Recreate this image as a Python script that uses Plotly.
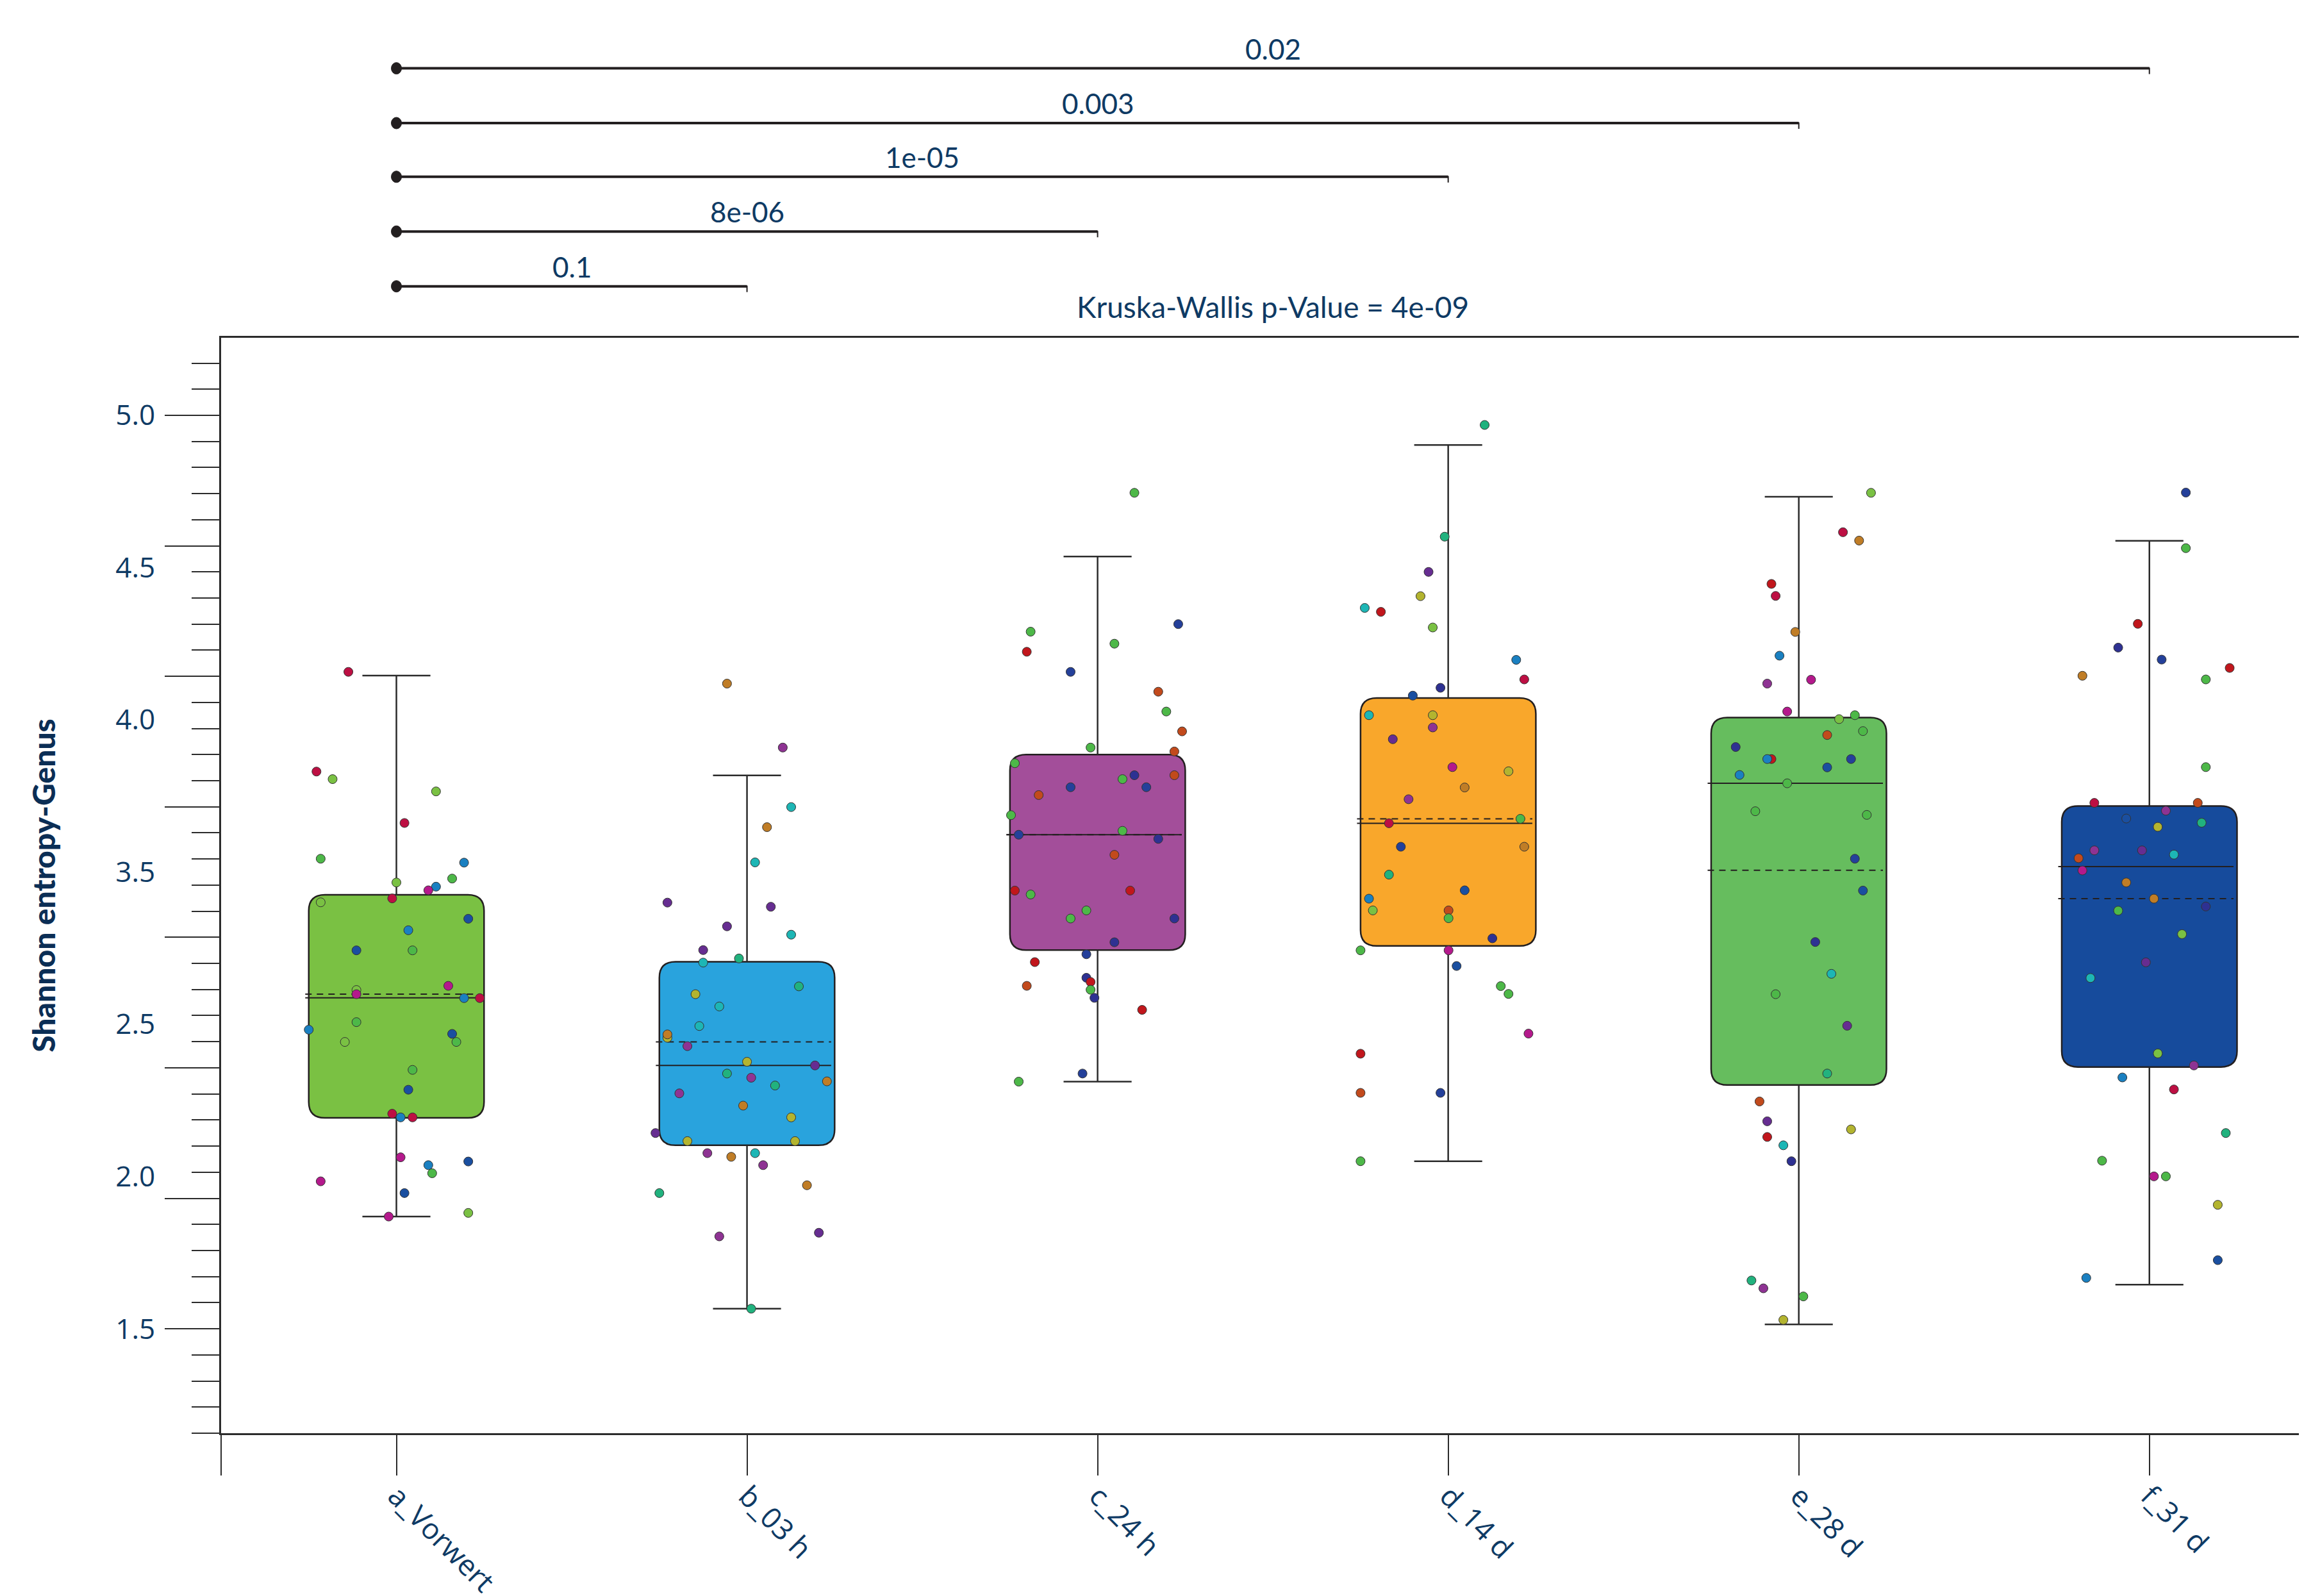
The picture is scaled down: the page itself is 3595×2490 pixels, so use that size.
import plotly.graph_objects as go
import numpy as np

# ---------------- data ----------------
categories = ["a_Vorwert", "b_03 h", "c_24 h", "d_14 d", "e_28 d", "f_31 d"]
box_colors = ["#7AC143", "#29A3DD", "#A34E9A", "#F9A72B", "#66BD5E", "#164B9C"]

q1 = [2.308, 2.203, 2.951, 2.967, 2.434, 2.503]
median = [2.768, 2.509, 3.393, 3.437, 3.590, 3.271]
q3 = [3.163, 2.906, 3.700, 3.917, 3.842, 3.503]
lower = [1.930, 1.577, 2.447, 2.142, 1.517, 1.669]
upper = [4.003, 3.620, 4.459, 4.886, 4.688, 4.519]
mean = [2.782, 2.599, 3.393, 3.454, 3.257, 3.148]

palette = {
    "R": "#BD0F43", "BR": "#C1161C", "LG": "#7AC143", "G": "#4DB848",
    "SG": "#21B27E", "B": "#1A80C1", "N": "#1A4FA0", "DN": "#2E3192",
    "N2": "#24409A", "M": "#B4198C", "PM": "#8E3393", "P": "#662D91",
    "BW": "#C07D26", "OR": "#C24A1C", "T": "#1DB6B5", "OL": "#B3B42F",
}

# jitter offsets (category units), values, colour keys for each group
a_dx = [-0.137, -0.228, -0.182, 0.113, 0.023, -0.216, 0.193, 0.159, 0.000, 0.113,
        0.091, -0.012, -0.216, 0.205, 0.034, -0.114, 0.046, 0.148, -0.114, -0.114,
        0.193, 0.238, -0.114, -0.250, -0.147, 0.159, 0.171, 0.046, 0.034, -0.012,
        0.012, 0.046, 0.012, 0.091, 0.205, 0.102, -0.216, 0.023, -0.022, 0.205]
a_val = [4.017, 3.635, 3.606, 3.559, 3.438, 3.301, 3.286, 3.225, 3.210, 3.194,
         3.180, 3.149, 3.134, 3.071, 3.027, 2.950, 2.950, 2.814, 2.798, 2.782,
         2.767, 2.767, 2.675, 2.646, 2.599, 2.630, 2.599, 2.492, 2.416, 2.324,
         2.310, 2.310, 2.157, 2.127, 2.141, 2.096, 2.065, 2.020, 1.930, 1.944]
a_col = ["R", "R", "LG", "LG", "R", "G", "B", "G", "LG", "B",
         "M", "R", "LG", "N", "B", "N", "G", "M", "LG", "M",
         "B", "R", "G", "B", "LG", "N", "G", "G", "N", "R",
         "B", "R", "M", "B", "N", "G", "M", "N", "M", "LG"]

b_dx = [-0.057, 0.102, 0.126, 0.057, 0.023, -0.227, 0.068, -0.057, 0.126, -0.125,
        -0.125, -0.023, 0.148, -0.147, -0.079, -0.136, -0.227, -0.227, -0.170, 0.000,
        0.194, -0.057, 0.012, 0.228, 0.080, -0.193, -0.011, 0.126, -0.261, -0.170,
        0.137, -0.113, -0.045, 0.023, 0.046, 0.171, -0.250, -0.079, 0.205, 0.012]
b_val = [3.972, 3.727, 3.499, 3.422, 3.287, 3.133, 3.117, 3.042, 3.010, 2.951,
         2.903, 2.919, 2.812, 2.782, 2.735, 2.660, 2.615, 2.628, 2.583, 2.523,
         2.509, 2.478, 2.462, 2.448, 2.432, 2.402, 2.355, 2.310, 2.250, 2.219,
         2.219, 2.173, 2.159, 2.173, 2.127, 2.050, 2.020, 1.854, 1.868, 1.577]
b_col = ["BW", "PM", "T", "BW", "T", "P", "P", "P", "T", "P",
         "T", "SG", "SG", "OL", "T", "T", "OL", "BW", "PM", "OL",
         "P", "SG", "PM", "BW", "SG", "PM", "BW", "OL", "P", "OL",
         "OL", "PM", "BW", "T", "PM", "BW", "SG", "PM", "P", "SG"]

c_dx = [0.105, 0.230, -0.191, 0.048, -0.202, -0.077, 0.173, 0.196, 0.241, -0.020,
        0.219, -0.236, 0.105, 0.219, 0.071, -0.077, 0.139, -0.168, -0.247, -0.225,
        0.071, 0.173, 0.048, -0.236, 0.093, -0.191, -0.032, -0.077, 0.219, 0.048,
        -0.032, -0.179, -0.032, -0.020, -0.020, -0.009, -0.202, 0.127, -0.043, -0.225]
c_val = [4.703, 4.200, 4.171, 4.125, 4.094, 4.017, 3.941, 3.865, 3.789, 3.727,
         3.712, 3.667, 3.621, 3.621, 3.606, 3.575, 3.575, 3.545, 3.468, 3.393,
         3.408, 3.377, 3.316, 3.179, 3.179, 3.164, 3.103, 3.072, 3.072, 2.981,
         2.935, 2.905, 2.845, 2.829, 2.799, 2.768, 2.814, 2.722, 2.478, 2.447]
c_col = ["G", "N2", "G", "G", "BR", "N2", "OR", "G", "OR", "G",
         "OR", "G", "DN", "OR", "G", "N2", "N2", "OR", "G", "N2",
         "G", "DN", "OR", "BR", "BR", "G", "G", "G", "DN", "DN",
         "N2", "BR", "DN", "BR", "G", "DN", "OR", "BR", "N2", "G"]

d_dx = [0.104, -0.010, -0.056, -0.079, -0.238, -0.192, -0.044, 0.194, 0.217, -0.022,
        -0.101, -0.226, -0.044, -0.044, -0.158, 0.012, 0.172, 0.047, -0.113, 0.206,
        -0.169, -0.135, 0.217, -0.169, 0.047, -0.226, -0.215, 0.001, 0.001, 0.126,
        -0.250, 0.001, 0.024, 0.150, 0.172, 0.229, -0.250, -0.250, -0.022, -0.250]
d_val = [4.963, 4.535, 4.400, 4.307, 4.262, 4.247, 4.187, 4.063, 3.988, 3.956,
         3.926, 3.851, 3.851, 3.804, 3.759, 3.652, 3.636, 3.574, 3.529, 3.454,
         3.437, 3.347, 3.347, 3.240, 3.180, 3.148, 3.103, 3.103, 3.073, 2.996,
         2.950, 2.950, 2.890, 2.813, 2.783, 2.631, 2.554, 2.404, 2.404, 2.142]
d_col = ["SG", "SG", "P", "OL", "T", "BR", "LG", "B", "R", "DN",
         "N", "T", "OL", "PM", "P", "M", "OL", "BW", "PM", "G",
         "R", "N2", "BW", "SG", "N", "B", "LG", "OR", "G", "DN",
         "G", "M", "N", "G", "G", "M", "BR", "OR", "N2", "G"]

e_dx = [0.206, 0.126, 0.172, -0.078, -0.066, -0.010, -0.055, -0.090, 0.035, -0.033,
        0.115, 0.160, 0.081, 0.183, -0.180, -0.078, -0.090, 0.149, 0.081, -0.169,
        -0.033, -0.124, 0.194, 0.160, 0.183, 0.047, 0.093, -0.066, 0.138, 0.081,
        -0.112, -0.090, -0.090, 0.149, -0.044, -0.021, -0.135, -0.101, 0.013, -0.044]
e_val = [4.703, 4.552, 4.520, 4.354, 4.308, 4.170, 4.079, 3.972, 3.987, 3.865,
         3.836, 3.851, 3.775, 3.790, 3.729, 3.683, 3.683, 3.683, 3.651, 3.622,
         3.590, 3.483, 3.469, 3.301, 3.179, 2.982, 2.860, 2.782, 2.661, 2.478,
         2.371, 2.295, 2.235, 2.264, 2.203, 2.142, 1.685, 1.655, 1.624, 1.534]
e_col = ["LG", "R", "BW", "BR", "R", "BW", "B", "PM", "M", "M",
         "LG", "G", "OR", "G", "DN", "BR", "B", "N2", "N", "B",
         "G", "G", "G", "N2", "N", "DN", "T", "G", "P", "SG",
         "OR", "P", "BR", "OL", "T", "DN", "SG", "PM", "G", "OL"]

f_dx = [0.104, 0.104, -0.033, -0.089, 0.035, 0.229, -0.191, 0.161, 0.161, -0.157,
        0.138, 0.047, -0.066, 0.024, 0.149, -0.157, -0.021, -0.202, 0.070, -0.191,
        -0.066, 0.013, -0.089, 0.161, 0.093, -0.010, -0.168, 0.024, 0.127, -0.077,
        0.070, 0.218, -0.135, 0.013, 0.047, 0.195, 0.195, -0.180]
f_val = [4.704, 4.491, 4.201, 4.110, 4.064, 4.032, 4.002, 3.988, 3.652, 3.515,
         3.515, 3.485, 3.455, 3.423, 3.439, 3.333, 3.333, 3.303, 3.317, 3.256,
         3.210, 3.148, 3.102, 3.118, 3.012, 2.904, 2.844, 2.555, 2.509, 2.463,
         2.417, 2.250, 2.144, 2.084, 2.084, 1.975, 1.763, 1.695]
f_col = ["N2", "G", "BR", "DN", "N2", "BR", "BW", "G", "G", "R",
         "OR", "PM", "N", "OL", "SG", "PM", "P", "OR", "T", "M",
         "BW", "BW", "G", "DN", "LG", "P", "T", "LG", "PM", "B",
         "R", "SG", "G", "M", "G", "OL", "N", "B"]

groups_dx = [a_dx, b_dx, c_dx, d_dx, e_dx, f_dx]
groups_val = [a_val, b_val, c_val, d_val, e_val, f_val]
groups_col = [a_col, b_col, c_col, d_col, e_col, f_col]

# pairwise comparisons (reference group index 0 vs group k)
pair_target = [1, 2, 3, 4, 5]
pair_pvalue = ["0.1", "8e-06", "1e-05", "0.003", "0.02"]
kruskal_text = "Kruska-Wallis p-Value = 4e-09"

ytick_labels = ["5.0", "4.5", "4.0", "3.5", "2.5", "2.0", "1.5"]

# ---------------- style ----------------
FONT = "Open Sans, sans-serif"
AFONT = "Lato, Open Sans, sans-serif"
TXT = "#0e3a64"
AX = "#2b2b2b"
YR = [1.1, 5.297]
XR = [-0.5, 5.441]
BOX_HW = 0.25
CAP_HW = 0.097
RX, RY = 0.046, 0.061
MED_L, MED_R = -0.26, 0.24

fig = go.Figure()
xpos = list(range(len(categories)))

# rounded boxes as shapes (data coordinates)
shapes = []
for i, c in enumerate(xpos):
    x0, x1 = c - BOX_HW, c + BOX_HW
    y0, y1 = q1[i], q3[i]
    path = (f"M {x0+RX},{y1} L {x1-RX},{y1} Q {x1},{y1} {x1},{y1-RY} "
            f"L {x1},{y0+RY} Q {x1},{y0} {x1-RX},{y0} "
            f"L {x0+RX},{y0} Q {x0},{y0} {x0},{y0+RY} "
            f"L {x0},{y1-RY} Q {x0},{y1} {x0+RX},{y1} Z")
    shapes.append(dict(type="path", path=path, xref="x", yref="y",
                       fillcolor=box_colors[i], line=dict(color="#231f20", width=2.5),
                       layer="below"))

# whiskers
wx, wy = [], []
for i, c in enumerate(xpos):
    wx += [c, c, None, c, c, None, c - CAP_HW, c + CAP_HW, None, c - CAP_HW, c + CAP_HW, None]
    wy += [q3[i], upper[i], None, q1[i], lower[i], None, upper[i], upper[i], None,
           lower[i], lower[i], None]
fig.add_trace(go.Scatter(x=wx, y=wy, mode="lines", line=dict(color=AX, width=2.5),
                         hoverinfo="skip", showlegend=False))

# mean (dashed) and median (solid)
mx, my, dx_, dy_ = [], [], [], []
for i, c in enumerate(xpos):
    mx += [c + MED_L, c + MED_R, None]
    my += [median[i], median[i], None]
    dx_ += [c + MED_L, c + MED_R, None]
    dy_ += [mean[i], mean[i], None]
fig.add_trace(go.Scatter(x=dx_, y=dy_, mode="lines",
                         line=dict(color="#231f20", width=2, dash="10px,8px"),
                         hoverinfo="skip", showlegend=False))
fig.add_trace(go.Scatter(x=mx, y=my, mode="lines", line=dict(color="#231f20", width=2),
                         hoverinfo="skip", showlegend=False))

# jittered points
for i, c in enumerate(xpos):
    fig.add_trace(go.Scatter(
        x=[c + d for d in groups_dx[i]], y=groups_val[i], mode="markers",
        marker=dict(size=14, color=[palette[k] for k in groups_col[i]],
                    line=dict(color="#333333", width=1)),
        name=categories[i], showlegend=False))

# dummy trace for the label axis
fig.add_trace(go.Scatter(x=[None], y=[None], yaxis="y2", showlegend=False, hoverinfo="skip"))

# comparison brackets above the plot
bracket_y = [1.047, 1.097, 1.147, 1.196, 1.246]
annotations = []
for j, k in enumerate(pair_target):
    yb = bracket_y[j]
    shapes.append(dict(type="line", xref="x", yref="paper", x0=0, x1=k, y0=yb, y1=yb,
                       line=dict(color="#231f20", width=4)))
    shapes.append(dict(type="line", xref="x", yref="paper", ysizemode="pixel", yanchor=yb,
                       x0=k, x1=k, y0=-9, y1=1, line=dict(color="#231f20", width=2)))
    shapes.append(dict(type="circle", xref="x", yref="paper", xsizemode="pixel",
                       ysizemode="pixel", xanchor=0, yanchor=yb, x0=-8, x1=8, y0=-9, y1=9,
                       fillcolor="#231f20", line=dict(color="#231f20", width=1)))
    annotations.append(dict(x=k / 2, y=yb, xref="x", yref="paper", text=pair_pvalue[j],
                            showarrow=False, yanchor="bottom", xanchor="center", yshift=3,
                            font=dict(family=AFONT, size=44, color=TXT)))

annotations.append(dict(x=(xpos[0] + xpos[-1]) / 2, y=1.011, xref="x", yref="paper",
                        text=kruskal_text, showarrow=False, yanchor="bottom",
                        xanchor="center", font=dict(family=AFONT, size=46, color=TXT)))

label_pos = list(np.linspace(5.0, 1.5, len(ytick_labels)))

fig.update_layout(
    width=3595, height=2490, autosize=False,
    margin=dict(l=337, r=8, t=519, b=262, pad=0, autoexpand=False),
    paper_bgcolor="white", plot_bgcolor="white",
    shapes=shapes, annotations=annotations,
    xaxis=dict(range=XR, tickmode="array", tickvals=[-0.5] + xpos,
               ticktext=[""] + categories, tickangle=45, automargin=False,
               ticklabelstandoff=-12,
               ticks="outside", ticklen=63, tickwidth=2, tickcolor=AX,
               showline=True, linewidth=2.5, linecolor=AX, mirror=True,
               showgrid=False, zeroline=False,
               tickfont=dict(family=FONT, size=45, color=TXT)),
    yaxis=dict(range=YR, tickmode="linear", tick0=1.5, dtick=0.5, automargin=False,
               ticks="outside", ticklen=85, tickwidth=2, tickcolor=AX,
               minor=dict(ticks="outside", ticklen=43, tickwidth=2, tickcolor=AX,
                          tickmode="linear", tick0=1.1, dtick=0.1, showgrid=False),
               showticklabels=False, showline=True, linewidth=2.5, linecolor=AX,
               showgrid=False, zeroline=False),
    yaxis2=dict(range=YR, overlaying="y", side="left", anchor="x", automargin=False,
                tickmode="array", tickvals=label_pos, ticktext=ytick_labels,
                ticks="outside", ticklen=93, tickcolor="rgba(0,0,0,0)",
                showline=False, showgrid=False, zeroline=False,
                tickfont=dict(family=FONT, size=44, color=TXT),
                title=dict(text="Shannon entropy-Genus", standoff=78,
                           font=dict(family=AFONT, size=48, color="#0b2e55", weight=900))),
)

fig.write_html("out.html")
